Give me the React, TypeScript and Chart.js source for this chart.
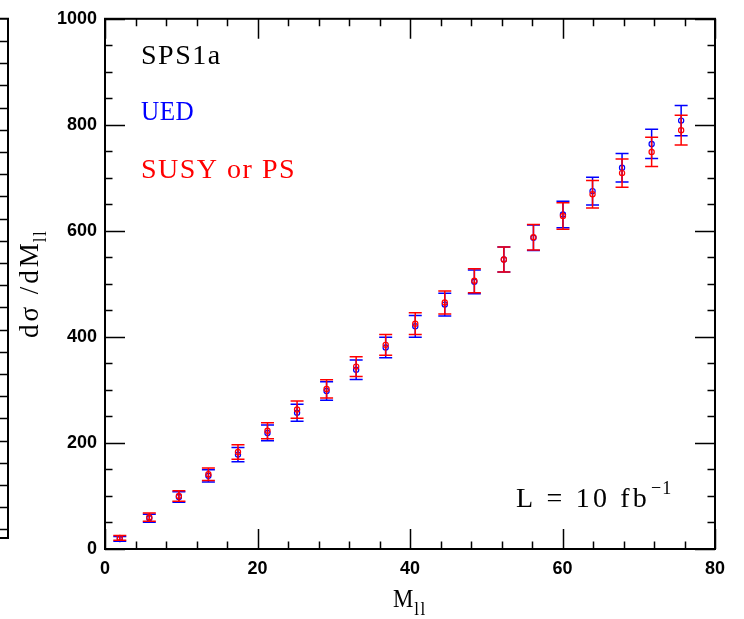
import React, { useEffect, useRef } from "react";
import { Chart, registerables } from "chart.js";

Chart.register(...registerables);

// ---- data ----
const BIN_CENTERS = [1.94, 5.81, 9.69, 13.56, 17.44, 21.31, 25.19, 29.06, 32.94, 36.81, 40.69, 44.56, 48.44, 52.31, 56.19, 60.06, 63.94, 67.81, 71.69, 75.56];
const UED_VALUES = [19, 58, 98, 138, 178, 219, 257, 298, 338, 380, 420, 461, 504, 546, 587, 631, 675, 719, 764, 808];
const UED_ERRORS = [4.4, 7.6, 9.9, 11.7, 13.3, 14.8, 16.0, 17.3, 18.4, 19.5, 20.5, 21.5, 22.4, 23.4, 24.2, 25.1, 26.0, 26.8, 27.6, 28.4];
const SUSY_VALUES = [21, 60, 100, 141, 183, 223, 263, 302, 344, 385, 425, 465, 506, 546, 588, 628, 669, 709, 749, 790];
const SUSY_ERRORS = [4.6, 7.7, 10.0, 11.9, 13.5, 14.9, 16.2, 17.4, 18.5, 19.6, 20.6, 21.6, 22.5, 23.4, 24.2, 25.1, 25.9, 26.6, 27.4, 28.1];
const X_MIN = 0, X_MAX = 80, X_MAJOR = 20, X_MINOR = 4;
const Y_MIN = 0, Y_MAX = 1000, Y_MAJOR = 200, Y_MINOR = 50;
const LABEL_MODEL = "SPS1a";
const LABEL_UED = "UED";
const LABEL_SUSY = "SUSY or PS";
const LABEL_LUMI = "L = 10 fb";
const LABEL_LUMI_EXP = "\u22121";

const SERIF = "'Liberation Serif', 'DejaVu Serif', serif";

// proportional serif, horizontally scaled by sx, with extra letter spacing ls
function drawSpaced(ctx: CanvasRenderingContext2D, text: string, x: number, y: number, sx: number, ls: number) {
  ctx.textAlign = "left";
  let cx = x;
  for (let i = 0; i < text.length; i++) {
    const ch = text[i];
    const w = ctx.measureText(ch).width * sx;
    if (ch !== " ") {
      ctx.save();
      ctx.translate(cx, y);
      ctx.scale(sx, 1);
      ctx.fillText(ch, 0, 0);
      ctx.restore();
    }
    cx += w + ls;
  }
  return cx;
}

const errorBarPlugin = {
  id: "errorBars",
  beforeDatasetDraw(chart: any, args: any) {
    const ds = chart.data.datasets[args.index];
    const errs: number[] = ds.errors;
    if (!errs) return;
    const xs = chart.scales.x, ys = chart.scales.y;
    const ctx = chart.ctx;
    ctx.save();
    ctx.strokeStyle = ds.borderColor;
    ctx.lineWidth = 1.5;
    ds.data.forEach((p: any, i: number) => {
      const px = xs.getPixelForValue(p.x);
      const top = ys.getPixelForValue(p.y + errs[i]);
      const bot = ys.getPixelForValue(p.y - errs[i]);
      const cap = 6.5;
      ctx.beginPath();
      ctx.moveTo(px, top);
      ctx.lineTo(px, bot);
      ctx.moveTo(px - cap, top);
      ctx.lineTo(px + cap, top);
      ctx.moveTo(px - cap, bot);
      ctx.lineTo(px + cap, bot);
      ctx.stroke();
    });
    ctx.restore();
  },
};

const framePlugin = {
  id: "frameAndText",
  afterDraw(chart: any) {
    const ctx = chart.ctx;
    const { left, right, top, bottom } = chart.chartArea;
    const xs = chart.scales.x, ys = chart.scales.y;
    ctx.save();
    ctx.strokeStyle = "#000";
    // ticks on all four sides, pointing inwards
    ctx.lineWidth = 1.5;
    ctx.beginPath();
    for (let v = X_MIN; v <= X_MAX + 1e-9; v += X_MINOR) {
      const px = Math.round(xs.getPixelForValue(v)) + 0.5;
      const len = Math.abs(v % X_MAJOR) < 1e-9 ? 20 : 7.5;
      ctx.moveTo(px, bottom);
      ctx.lineTo(px, bottom - len);
      ctx.moveTo(px, top);
      ctx.lineTo(px, top + len);
    }
    for (let v = Y_MIN; v <= Y_MAX + 1e-9; v += Y_MINOR) {
      const py = Math.round(ys.getPixelForValue(v)) + 0.5;
      const len = Math.abs(v % Y_MAJOR) < 1e-9 ? 20 : 7.5;
      ctx.moveTo(left, py);
      ctx.lineTo(left + len, py);
      ctx.moveTo(right, py);
      ctx.lineTo(right - len, py);
    }
    ctx.stroke();
    // frame
    ctx.lineWidth = 2;
    ctx.strokeRect(left, top, right - left, bottom - top);

    // partial neighbouring panel frame at the far left
    const nx = 8, nTop = top, nBot = 538;
    ctx.lineWidth = 2;
    ctx.beginPath();
    ctx.moveTo(0, nTop);
    ctx.lineTo(nx, nTop);
    ctx.lineTo(nx, nBot);
    ctx.lineTo(0, nBot);
    ctx.stroke();
    ctx.lineWidth = 1.5;
    ctx.beginPath();
    for (let k = 1; k < 24; k++) {
      const py = Math.round(nTop + 22.2 * k) + 0.5;
      if (py >= nBot - 2) break;
      ctx.moveTo(0, py);
      ctx.lineTo(nx, py);
    }
    ctx.stroke();

    // annotations
    ctx.textBaseline = "alphabetic";
    ctx.font = `28px ${SERIF}`;
    ctx.fillStyle = "#000";
    drawSpaced(ctx, LABEL_MODEL, 141, 64, 1, 1.5);
    ctx.fillStyle = "#0000ff";
    drawSpaced(ctx, LABEL_UED, 141, 120, 0.9, 0.5);
    ctx.fillStyle = "#ff0000";
    drawSpaced(ctx, LABEL_SUSY, 141, 178, 1, 1.5);

    ctx.fillStyle = "#000";
    drawSpaced(ctx, LABEL_LUMI, 516, 507, 1, 3.2);
    ctx.font = `19px ${SERIF}`;
    drawSpaced(ctx, LABEL_LUMI_EXP, 651, 494, 0.95, 1);

    // x title
    ctx.font = `26px ${SERIF}`;
    const xe = drawSpaced(ctx, "M", 393, 607, 0.88, 0);
    ctx.font = `18px ${SERIF}`;
    drawSpaced(ctx, "ll", xe + 1, 615, 0.95, 1.5);

    // y title (rotated, reads bottom to top)
    ctx.save();
    ctx.translate(38, 338);
    ctx.rotate(-Math.PI / 2);
    ctx.font = `27px ${SERIF}`;
    const ye = drawSpaced(ctx, "d\u03c3 /dM", 0, 0, 1, 3);
    ctx.font = `18px ${SERIF}`;
    drawSpaced(ctx, "ll", ye - 2, 8, 0.95, 1.5);
    ctx.restore();

    ctx.restore();
  },
};

export default function App() {
  const ref = useRef<HTMLCanvasElement | null>(null);
  useEffect(() => {
    if (!ref.current) return;
    const tickFont = { family: "'Liberation Sans', Arial, sans-serif", size: 18, weight: "bold" as const };
    const chart = new Chart(ref.current, {
      type: "scatter",
      data: {
        datasets: [
          {
            label: LABEL_UED,
            data: BIN_CENTERS.map((x, i) => ({ x, y: UED_VALUES[i] })),
            errors: UED_ERRORS,
            borderColor: "#0000ff",
            backgroundColor: "rgba(0,0,0,0)",
            pointRadius: 2.6,
            pointBorderWidth: 1.2,
            order: 2,
          } as any,
          {
            label: LABEL_SUSY,
            data: BIN_CENTERS.map((x, i) => ({ x, y: SUSY_VALUES[i] })),
            errors: SUSY_ERRORS,
            borderColor: "#ff0000",
            backgroundColor: "rgba(0,0,0,0)",
            pointRadius: 2.6,
            pointBorderWidth: 1.2,
            order: 1,
          } as any,
        ],
      },
      options: {
        responsive: false,
        animation: false,
        layout: { padding: { left: 8, top: 17, right: 29, bottom: 0 } },
        plugins: { legend: { display: false }, tooltip: { enabled: false } },
        scales: {
          x: {
            type: "linear",
            min: X_MIN,
            max: X_MAX,
            grid: { display: false, drawTicks: false },
            border: { display: false },
            ticks: { stepSize: X_MAJOR, color: "#000", font: tickFont, padding: 9, maxRotation: 0, callback: (v: any) => String(v) },
            afterFit: (s: any) => { s.height = 70; },
          },
          y: {
            type: "linear",
            min: Y_MIN,
            max: Y_MAX,
            grid: { display: false, drawTicks: false },
            border: { display: false },
            ticks: { stepSize: Y_MAJOR, color: "#000", font: tickFont, padding: 8, callback: (v: any) => String(v) },
            afterFit: (s: any) => { s.width = 97; },
          },
        },
      },
      plugins: [errorBarPlugin, framePlugin],
    } as any);
    return () => chart.destroy();
  }, []);
  return (
    <div style={{ position: "fixed", left: 0, top: 0, width: 744, height: 619, background: "#fff" }}>
      <canvas ref={ref} width={744} height={619} style={{ display: "block" }} />
    </div>
  );
}
